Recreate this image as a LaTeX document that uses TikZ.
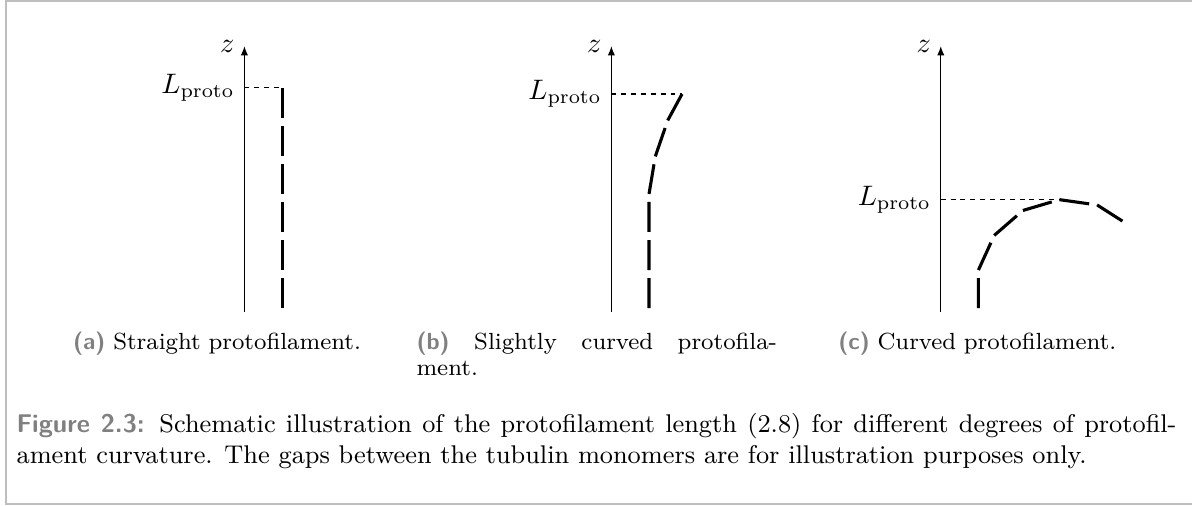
\documentclass[tikz,border=0pt]{standalone}
\usepackage{tikz}
\usetikzlibrary{arrows.meta, positioning, calc}
\usepackage{xcolor}
\definecolor{capgray}{RGB}{128,128,128}
\definecolor{framegray}{RGB}{190,190,190}
\newcommand{\sublabel}[1]{{\color{capgray}\sffamily\bfseries #1}}

\begin{document}
\begin{tikzpicture}[
  axis/.style={-{Latex[length=3.3pt, width=2.6pt]}, line width=0.4pt},
  level/.style={dash pattern=on 1.75pt off 1.75pt, line width=0.4pt},
  mono/.style={line width=1.1pt},
  sub/.style={text width=4.5cm, inner sep=0pt, anchor=north,
              font=\fontsize{8.3}{9.4}\selectfont},
  figcap/.style={text width=14.48cm, align=justify, inner sep=0pt, anchor=north west,
                 font=\fontsize{9.1}{10.9}\selectfont}
]
\useasboundingbox (0,0) rectangle (14.88,6.316);
\draw[framegray, line width=0.8pt] (15.2,6.306) -- (0.075,6.306) -- (0.075,0.025) -- (15.2,0.025);

\coordinate (a0) at (3.051,2.42);
\coordinate (b0) at (7.632,2.42);
\coordinate (c0) at (11.744,2.42);

\draw[axis] (a0) -- ++(0,3.32) node[left] (za) {$z$};
\draw[axis] (b0) -- ++(0,3.32) node[left] (zb) {$z$};
\draw[axis] (c0) -- ++(0,3.32) node[left] (zc) {$z$};

\draw[mono] ($(a0)+(0.47,0.05)$) foreach \t [count=\i] in {0,0,0,0,0,0}
  { coordinate (a-s\i) -- ++({90-\t}:0.375) coordinate (a-e\i) ++({90-\t}:0.1) };
\draw[mono] ($(b0)+(0.47,0.05)$) foreach \t [count=\i] in {0,0,0,9.5,19,28.5}
  { coordinate (b-s\i) -- ++({90-\t}:0.375) coordinate (b-e\i) ++({90-\t}:0.1) };
\draw[mono] ($(c0)+(0.47,0.05)$) foreach \t [count=\i] in {0,24.5,49,73.5,98,122.5}
  { coordinate (c-s\i) -- ++({90-\t}:0.375) coordinate (c-e\i) ++({90-\t}:0.1) };

\draw[level] (a-e6 -| a0) -- (a-e6);
\draw[level] (b-e6 -| b0) -- (b-e6);
\draw[level] (c-s5 -| c0) -- (c-s5);
\node[left] (La) at (a-e6 -| a0) {$L_{\mathrm{proto}}$};
\node[left] (Lb) at (b-e6 -| b0) {$L_{\mathrm{proto}}$};
\node[left] (Lc) at (c-s5 -| c0) {$L_{\mathrm{proto}}$};

\node[sub, align=center] (capa) at (2.71,2.18)
  {\sublabel{(a)} Straight protofilament.};
\node[sub, align=justify] (capb) at (7.45,2.18)
  {\sublabel{(b)} Slightly curved protofila-\linebreak ment.};
\node[sub, align=center] (capc) at (12.2,2.18)
  {\sublabel{(c)} Curved protofilament.};

\node[figcap] (fig) at (0.2,1.165)
  {\sublabel{Figure 2.3:} Schematic illustration of the protofilament length (2.8) for different degrees of protofil-\linebreak ament curvature. The gaps between the tubulin monomers are for illustration purposes only.};

\end{tikzpicture}
\end{document}
